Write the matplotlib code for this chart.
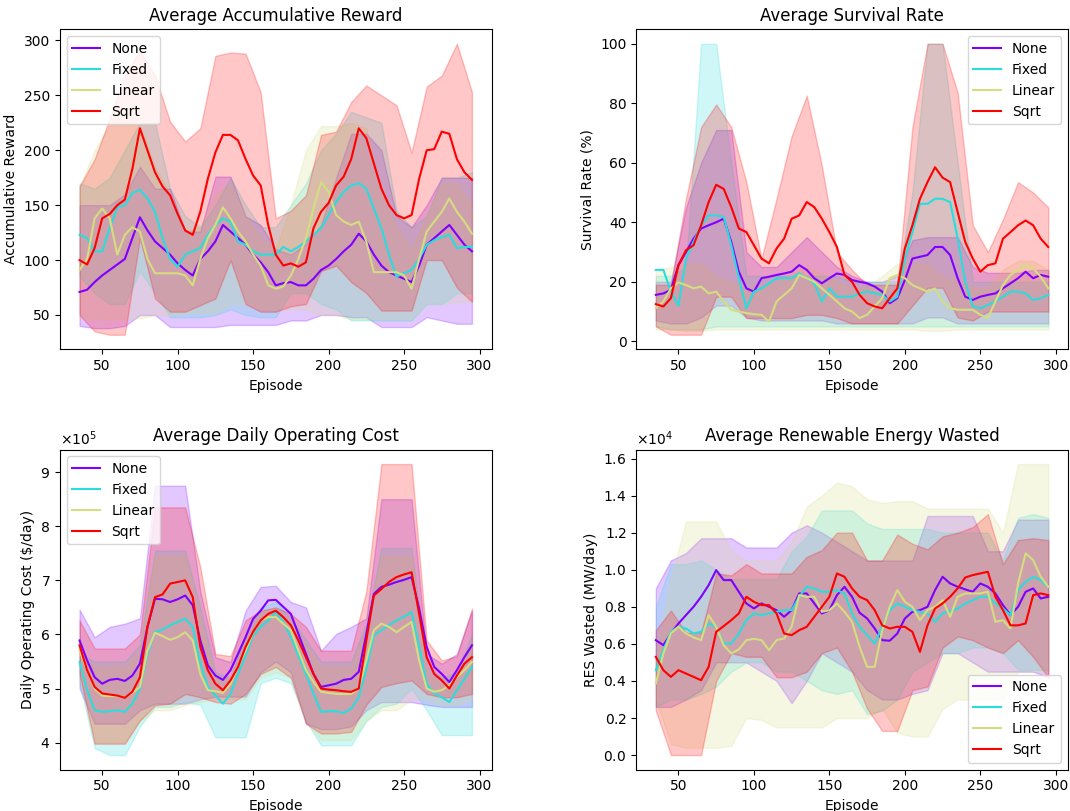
import numpy as np
import matplotlib
matplotlib.use('Agg')
import matplotlib.pyplot as plt

# smoothed mean curves every 5 episodes, min/max envelopes every 10
episodes = list(range(35, 296, 5))
band_episodes = list(range(35, 296, 10))

methods = ['None', 'Fixed', 'Linear', 'Sqrt']

# ---- Average Accumulative Reward
reward_none = [71, 73, 80, 86, 91, 96, 101, 120, 139, 127, 117, 111, 105, 97, 91, 86, 101, 108, 117, 132, 126, 120, 114, 105, 98, 89, 77,
			   79, 80, 77, 77, 83, 91, 95, 101, 108, 114, 124, 117, 105, 95, 89, 86, 83, 80, 95, 114, 120, 126, 132, 123, 114, 108]
reward_fixed = [123, 120, 108, 108, 129, 148, 150, 161, 164, 156, 144, 120, 101, 94, 105, 108, 111, 123, 132, 138, 135, 117, 114, 108, 105, 105, 105,
				112, 108, 112, 117, 123, 129, 141, 153, 162, 168, 170, 165, 147, 129, 105, 85, 88, 91, 101, 114, 118, 121, 123, 111, 112, 112]
reward_linear = [91, 101, 138, 147, 138, 105, 123, 130, 126, 101, 88, 88, 88, 88, 86, 77, 101, 120, 132, 148, 138, 126, 117, 105, 95, 77, 74,
				 76, 86, 101, 120, 147, 171, 162, 141, 135, 132, 135, 117, 89, 89, 89, 89, 86, 74, 101, 126, 135, 144, 156, 144, 135, 124]
reward_sqrt = [100, 96, 111, 138, 142, 150, 155, 183, 220, 200, 180, 167, 159, 142, 127, 123, 144, 174, 198, 214, 214, 209, 192, 177, 168, 132, 105,
			   95, 97, 94, 98, 129, 144, 152, 168, 176, 192, 220, 211, 188, 165, 150, 141, 138, 141, 174, 200, 201, 217, 215, 192, 180, 173]
reward_none_lo = [40, 38, 38, 40, 50, 50, 39, 39, 39, 39, 41, 41, 41, 41, 45, 45, 50, 50, 48, 48, 39, 39, 39, 48, 45, 42, 42]
reward_none_hi = [150, 150, 150, 160, 185, 165, 165, 126, 126, 176, 176, 140, 132, 110, 105, 115, 132, 175, 215, 215, 200, 140, 130, 150, 175, 175, 175]
reward_fixed_lo = [85, 70, 60, 60, 90, 70, 48, 48, 48, 50, 55, 50, 48, 48, 70, 70, 60, 55, 45, 45, 45, 45, 45, 60, 60, 70, 70]
reward_fixed_hi = [170, 165, 175, 200, 225, 225, 165, 140, 130, 150, 175, 150, 130, 130, 150, 170, 200, 215, 235, 230, 225, 145, 130, 140, 175, 175, 180]
reward_linear_lo = [48, 46, 46, 46, 47, 50, 50, 52, 52, 52, 60, 60, 55, 55, 55, 55, 50, 50, 46, 46, 46, 46, 46, 60, 60, 62, 62]
reward_linear_hi = [167, 200, 223, 223, 223, 185, 160, 126, 130, 160, 170, 140, 120, 110, 150, 200, 222, 222, 225, 220, 160, 130, 110, 140, 170, 170, 150]
reward_sqrt_lo = [50, 35, 32, 32, 120, 65, 53, 53, 59, 65, 100, 60, 53, 53, 58, 60, 90, 95, 80, 70, 54, 54, 54, 100, 100, 75, 62]
reward_sqrt_hi = [167, 192, 229, 268, 291, 268, 226, 208, 220, 286, 289, 288, 253, 138, 145, 159, 214, 217, 244, 259, 250, 241, 198, 258, 268, 297, 253]

# ---- Average Survival Rate (%)
surv_none = [15.6, 16.1, 17.3, 25.6, 30, 34.5, 37.9, 39, 40, 41.2, 33.4, 23.4, 17.8, 16.7, 21.2, 21.7, 22.3, 22.8, 23.4, 25.6, 24, 21.2, 19.5, 21.2, 22.8, 22.3, 20.6,
			 20, 19.5, 18.4, 16.7, 12.8, 14.5, 20.6, 27.8, 28.4, 29, 31.7, 31.7, 29, 21.2, 15, 13.9, 15, 15.6, 16.1, 17.8, 19.5, 21.2, 23.4, 21.2, 22.3, 21.7]
surv_fixed = [24, 24, 16.7, 12, 27.8, 33.4, 39, 42.3, 42.3, 41.8, 32.3, 21.2, 11.1, 16.7, 17.8, 19.5, 21.2, 21.2, 21.2, 22.8, 21.2, 19.5, 13.4, 17.8, 15, 15, 15,
			  16.1, 16.7, 16.1, 15.6, 13.4, 15, 27.8, 36.7, 46.2, 46.2, 47.9, 47.9, 46.8, 34.5, 20, 11.7, 11.1, 12.2, 13.4, 15, 16.7, 16.7, 16.1, 13.9, 14.5, 15.6]
surv_linear = [11.1, 13.4, 17.8, 19.8, 18.9, 17.8, 18.4, 16.1, 16.7, 13.4, 10.6, 10, 9.5, 9.1, 8.9, 6.7, 13.4, 15.6, 17.8, 22.3, 21.2, 20, 17.8, 15.6, 13.4, 11.1, 10,
			   7.8, 8.9, 11.7, 14.5, 21.2, 22.3, 21.2, 18.9, 17.8, 16.7, 17.8, 13.4, 11.1, 10.6, 10.6, 10.6, 8.9, 7.8, 13.4, 18.9, 22.3, 24, 25.6, 24.5, 21.7, 17.8]
surv_sqrt = [12.5, 11.7, 14.5, 25.6, 30.6, 32.3, 39, 46.8, 52.6, 51.2, 45.1, 37.9, 36.7, 32.3, 27.8, 26.2, 31.2, 34.5, 41.2, 42.3, 46.8, 45.1, 41.2, 36.7, 31.7, 22.3, 20,
			 15.6, 12.8, 11.7, 11.1, 14.5, 17.8, 31.2, 39, 47.9, 53.5, 58.5, 55, 53.5, 43.4, 33.4, 27.8, 23.4, 25.6, 26.2, 34.5, 36.7, 39, 40.6, 39, 34.5, 31.7]
surv_none_lo = [7, 6, 6, 8, 12, 12, 8, 7, 7, 7, 7, 7, 6, 6, 6, 6, 6, 6, 8, 8, 6, 6, 6, 6, 6, 6, 6]
surv_none_hi = [20, 20, 45, 60, 71, 71, 30, 25, 25, 30, 35, 30, 25, 22, 20, 20, 22, 34, 35, 35, 35, 25, 23, 23, 23, 24, 24]
surv_fixed_lo = [5, 4, 4, 4, 5, 5, 5, 5, 5, 5, 5, 5, 5, 5, 5, 5, 5, 5, 5, 5, 5, 5, 5, 5, 5, 5, 5]
surv_fixed_hi = [22, 22, 25, 100, 100, 60, 22, 22, 22, 22, 22, 22, 22, 20, 20, 20, 20, 50, 100, 100, 60, 20, 20, 20, 20, 20, 20]
surv_linear_lo = [4, 4, 3.5, 3.5, 4, 4, 4, 4, 4, 4, 4, 4, 4, 4, 4, 4, 4, 4, 3.5, 3.5, 4, 4, 4, 4, 4, 4, 4]
surv_linear_hi = [24, 25, 26, 26, 22, 20, 18, 18, 20, 23, 25, 23, 20, 18, 18, 22, 26, 26, 26, 22, 20, 18, 18, 24, 27, 27, 24]
surv_sqrt_lo = [5, 2.2, 2.2, 2.2, 15, 15, 7.8, 7.8, 7.8, 7.8, 8.9, 8.9, 7.8, 6, 6, 6, 6, 12, 18, 18, 8, 7, 10, 10, 10, 10, 10]
surv_sqrt_hi = [19, 19, 48, 72, 79.6, 72, 53.5, 27.8, 48, 69, 82.6, 59, 30, 24, 19, 19, 19, 72, 100, 100, 83.5, 39, 30, 41, 53.5, 50, 45]

# ---- Average Daily Operating Cost (x1e5 $/day)
cost_none = [5.89, 5.52, 5.21, 5.09, 5.16, 5.18, 5.14, 5.24, 5.46, 6.14, 6.66, 6.65, 6.6, 6.65, 6.72, 6.54, 5.89, 5.43, 5.24, 5.16, 5.34, 5.64, 5.95, 6.29, 6.44, 6.63, 6.64,
			 6.51, 6.38, 6.01, 5.64, 5.27, 5.03, 5.06, 5.09, 5.16, 5.18, 5.31, 6.01, 6.75, 6.88, 6.92, 6.97, 7.01, 7.06, 6.48, 5.77, 5.4, 5.27, 5.12, 5.34, 5.58, 5.8]
cost_fixed = [5.49, 4.97, 4.6, 4.57, 4.58, 4.6, 4.57, 4.72, 5.0, 5.64, 6.04, 6.09, 6.17, 6.23, 6.29, 6.14, 5.46, 5.03, 4.87, 4.72, 4.9, 5.27, 5.61, 5.98, 6.14, 6.26, 6.41,
			  6.23, 5.95, 5.61, 5.27, 4.91, 4.57, 4.58, 4.58, 4.55, 4.63, 4.84, 5.37, 5.98, 6.08, 6.17, 6.26, 6.33, 6.41, 5.77, 5.09, 4.91, 4.84, 4.75, 4.97, 5.18, 5.4]
cost_linear = [5.7, 5.34, 5.0, 4.87, 4.86, 4.86, 4.84, 4.92, 5.03, 5.7, 6.03, 5.97, 5.9, 5.95, 6.04, 5.89, 5.27, 4.97, 4.95, 4.92, 5.09, 5.4, 5.7, 6.04, 6.26, 6.32, 6.32,
			   6.2, 6.08, 5.7, 5.34, 5.12, 4.94, 4.92, 4.9, 4.9, 4.9, 5.0, 5.52, 6.08, 6.2, 6.14, 6.04, 6.14, 6.23, 5.52, 5.0, 4.94, 4.97, 5.06, 5.21, 5.34, 5.49]
cost_sqrt = [5.8, 5.34, 5.03, 4.91, 4.89, 4.87, 4.83, 4.94, 5.21, 6.14, 6.69, 6.74, 6.94, 6.97, 7.0, 6.69, 5.77, 5.34, 5.09, 4.97, 5.15, 5.4, 5.77, 6.05, 6.26, 6.38, 6.44,
			 6.32, 6.17, 5.89, 5.58, 5.27, 5.0, 4.98, 4.97, 4.95, 4.94, 5.0, 5.89, 6.72, 6.84, 6.97, 7.06, 7.11, 7.15, 6.38, 5.58, 5.27, 5.15, 5.0, 5.24, 5.46, 5.58]
cost_none_lo = [5.0, 4.35, 4.35, 4.35, 4.6, 4.72, 4.72, 4.72, 4.8, 4.85, 4.85, 4.85, 5.3, 5.5, 5.3, 4.35, 4.25, 4.25, 4.3, 4.6, 4.75, 4.75, 4.75, 4.7, 4.66, 4.66, 4.66]
cost_none_hi = [6.46, 5.95, 6.14, 6.2, 6.3, 8.75, 8.75, 8.75, 6.8, 5.58, 5.49, 6.44, 6.88, 6.9, 6.6, 6.5, 5.7, 6.01, 6.14, 6.3, 8.5, 8.5, 8.5, 5.64, 5.46, 5.64, 6.44]
cost_fixed_lo = [5.1, 3.9, 3.77, 3.77, 4.3, 4.66, 4.66, 4.75, 4.7, 4.1, 4.1, 4.1, 5.1, 5.2, 5.1, 4.4, 3.95, 3.95, 3.95, 4.4, 4.66, 4.72, 5.0, 4.6, 4.14, 4.14, 4.14]
cost_fixed_hi = [5.64, 5.5, 5.5, 5.5, 5.8, 7.55, 7.55, 7.55, 6.5, 5.3, 5.2, 6.0, 6.5, 6.6, 6.3, 5.9, 5.5, 5.5, 5.5, 6.2, 7.6, 7.6, 7.6, 5.4, 5.2, 5.3, 6.0]
cost_linear_lo = [5.2, 4.0, 4.0, 4.0, 4.4, 4.6, 4.6, 4.7, 4.75, 4.8, 4.8, 4.8, 5.2, 5.3, 5.2, 4.4, 4.05, 4.05, 4.05, 4.4, 4.6, 4.6, 4.8, 4.8, 4.7, 4.7, 4.8]
cost_linear_hi = [5.6, 5.4, 5.4, 5.4, 5.7, 7.45, 7.45, 7.45, 6.3, 5.2, 5.2, 5.9, 6.4, 6.5, 6.2, 5.8, 5.4, 5.4, 5.4, 6.1, 7.45, 7.45, 7.45, 5.3, 5.1, 5.2, 5.9]
cost_sqrt_lo = [5.27, 3.98, 3.98, 3.98, 4.41, 4.69, 4.72, 4.9, 4.84, 4.75, 4.72, 4.9, 5.27, 5.4, 5.2, 4.35, 4.17, 4.17, 4.2, 4.7, 5.03, 5.1, 5.15, 4.9, 4.84, 4.84, 4.9]
cost_sqrt_hi = [6.26, 5.74, 5.74, 5.74, 6.0, 8.35, 8.35, 8.35, 7.25, 5.64, 5.6, 6.26, 6.44, 6.5, 6.38, 6.14, 5.7, 5.7, 5.7, 6.8, 9.15, 9.15, 9.15, 5.89, 5.52, 5.6, 6.48]

# ---- Average Renewable Energy Wasted (x1e4 MW/day)
res_none = [0.62, 0.593, 0.656, 0.71, 0.755, 0.8, 0.854, 0.917, 0.998, 0.944, 0.944, 0.881, 0.818, 0.791, 0.818, 0.8, 0.782, 0.746, 0.782, 0.872, 0.872, 0.818, 0.764, 0.782, 0.863, 0.908, 0.854,
			0.768, 0.737, 0.683, 0.62, 0.617, 0.656, 0.737, 0.773, 0.782, 0.8, 0.89, 0.962, 0.926, 0.908, 0.894, 0.881, 0.926, 0.908, 0.872, 0.809, 0.755, 0.8, 0.881, 0.899, 0.845, 0.854]
res_fixed = [0.458, 0.566, 0.665, 0.692, 0.683, 0.656, 0.665, 0.71, 0.692, 0.602, 0.602, 0.656, 0.728, 0.764, 0.755, 0.764, 0.773, 0.782, 0.782, 0.854, 0.908, 0.899, 0.881, 0.881, 0.89, 0.872, 0.764,
			 0.692, 0.647, 0.602, 0.692, 0.782, 0.818, 0.8, 0.782, 0.773, 0.764, 0.719, 0.764, 0.778, 0.791, 0.818, 0.836, 0.854, 0.854, 0.818, 0.791, 0.755, 0.89, 0.935, 0.962, 0.944, 0.908]
res_linear = [0.386, 0.548, 0.656, 0.692, 0.656, 0.635, 0.62, 0.755, 0.692, 0.593, 0.548, 0.57, 0.62, 0.627, 0.62, 0.566, 0.62, 0.629, 0.692, 0.863, 0.854, 0.854, 0.773, 0.782, 0.818, 0.773, 0.719,
			  0.584, 0.476, 0.476, 0.674, 0.8, 0.89, 0.827, 0.8, 0.728, 0.782, 0.8, 0.836, 0.746, 0.854, 0.872, 0.872, 0.872, 0.881, 0.719, 0.728, 0.683, 0.926, 1.088, 1.052, 0.962, 0.908]
res_sqrt = [0.53, 0.458, 0.422, 0.458, 0.44, 0.422, 0.404, 0.476, 0.665, 0.696, 0.728, 0.764, 0.854, 0.827, 0.809, 0.809, 0.764, 0.656, 0.647, 0.674, 0.692, 0.746, 0.8, 0.854, 0.98, 0.962, 0.899,
			0.854, 0.836, 0.782, 0.7, 0.683, 0.692, 0.692, 0.665, 0.557, 0.7, 0.791, 0.818, 0.854, 0.899, 0.958, 0.971, 0.98, 0.989, 0.854, 0.782, 0.7, 0.7, 0.71, 0.863, 0.872, 0.863]
res_none_lo = [0.26, 0.26, 0.3, 0.35, 0.5, 0.5, 0.5, 0.45, 0.4, 0.28, 0.4, 0.55, 0.5, 0.45, 0.35, 0.3, 0.3, 0.33, 0.35, 0.55, 0.55, 0.5, 0.45, 0.45, 0.45, 0.45, 0.42]
res_none_hi = [0.9, 1.05, 1.09, 1.17, 1.17, 1.17, 1.12, 1.12, 1.12, 1.2, 1.24, 1.2, 1.15, 1.1, 1.05, 1.05, 1.05, 1.05, 1.29, 1.29, 1.29, 1.29, 1.1, 1.1, 1.27, 1.27, 1.27]
res_fixed_lo = [0.26, 0.3, 0.3, 0.33, 0.37, 0.45, 0.5, 0.5, 0.45, 0.45, 0.4, 0.35, 0.33, 0.35, 0.22, 0.24, 0.3, 0.45, 0.5, 0.55, 0.55, 0.58, 0.58, 0.55, 0.46, 0.46, 0.46]
res_fixed_hi = [0.8, 1.03, 1.03, 1.05, 1.0, 0.95, 0.95, 0.95, 0.95, 1.1, 1.18, 1.32, 1.32, 1.32, 1.25, 1.22, 1.22, 1.22, 1.22, 1.2, 1.2, 1.2, 1.2, 1.05, 1.28, 1.3, 1.28]
res_linear_lo = [0.3, 0.06, 0.04, 0.04, 0.04, 0.05, 0.2, 0.19, 0.15, 0.15, 0.15, 0.15, 0.2, 0.2, 0.2, 0.25, 0.12, 0.1, 0.1, 0.25, 0.3, 0.3, 0.3, 0.3, 0.45, 0.45, 0.45]
res_linear_hi = [0.5, 0.95, 1.26, 1.26, 1.26, 1.1, 1.05, 1.05, 1.05, 1.15, 1.34, 1.4, 1.47, 1.45, 1.38, 1.36, 1.37, 1.37, 1.33, 1.33, 1.33, 1.33, 1.33, 1.2, 1.57, 1.57, 1.57]
res_sqrt_lo = [0.24, 0.0, 0.0, 0.0, 0.4, 0.55, 0.53, 0.53, 0.42, 0.42, 0.45, 0.55, 0.58, 0.45, 0.25, 0.13, 0.13, 0.35, 0.37, 0.58, 0.64, 0.62, 0.58, 0.55, 0.62, 0.53, 0.42]
res_sqrt_hi = [0.674, 0.78, 0.66, 0.66, 0.98, 0.97, 1.03, 0.98, 0.98, 0.98, 1.07, 1.106, 1.2, 1.2, 1.05, 1.05, 1.19, 1.14, 1.11, 1.18, 1.2, 1.23, 1.3, 1.03, 1.16, 1.17, 1.16]

colors = plt.cm.rainbow(np.linspace(0, 1, len(methods)))


def draw(ax, series, scale, title, ylabel, legend_loc):
	x = np.array(episodes)
	xb = np.array(band_episodes)
	for i, (mean, lo, hi) in enumerate(series):
		c = colors[i]
		ax.fill_between(xb, np.array(lo) * scale, np.array(hi) * scale, color=c, alpha=0.22, linewidth=1)
		ax.plot(x, np.array(mean) * scale, color=c, linewidth=1.5, label=methods[i])
	ax.set_title(title)
	ax.set_xlabel('Episode')
	ax.set_ylabel(ylabel)
	ax.set_xticks([50, 100, 150, 200, 250, 300])
	ax.legend(loc=legend_loc)
	if scale != 1:
		ax.ticklabel_format(axis='y', style='sci', scilimits=(0, 0), useMathText=True)


fig, axs = plt.subplots(2, 2, figsize=(10.7, 8.11), dpi=100)
plt.subplots_adjust(left=0.056, right=0.998, bottom=0.051, top=0.964, wspace=0.335, hspace=0.313)

draw(axs[0, 0], [(reward_none, reward_none_lo, reward_none_hi),
				 (reward_fixed, reward_fixed_lo, reward_fixed_hi),
				 (reward_linear, reward_linear_lo, reward_linear_hi),
				 (reward_sqrt, reward_sqrt_lo, reward_sqrt_hi)],
	 1, 'Average Accumulative Reward', 'Accumulative Reward', 'upper left')

draw(axs[0, 1], [(surv_none, surv_none_lo, surv_none_hi),
				 (surv_fixed, surv_fixed_lo, surv_fixed_hi),
				 (surv_linear, surv_linear_lo, surv_linear_hi),
				 (surv_sqrt, surv_sqrt_lo, surv_sqrt_hi)],
	 1, 'Average Survival Rate', 'Survival Rate (%)', 'upper right')

draw(axs[1, 0], [(cost_none, cost_none_lo, cost_none_hi),
				 (cost_fixed, cost_fixed_lo, cost_fixed_hi),
				 (cost_linear, cost_linear_lo, cost_linear_hi),
				 (cost_sqrt, cost_sqrt_lo, cost_sqrt_hi)],
	 1e5, 'Average Daily Operating Cost', r'Daily Operating Cost (\$/day)', 'upper left')

draw(axs[1, 1], [(res_none, res_none_lo, res_none_hi),
				 (res_fixed, res_fixed_lo, res_fixed_hi),
				 (res_linear, res_linear_lo, res_linear_hi),
				 (res_sqrt, res_sqrt_lo, res_sqrt_hi)],
	 1e4, 'Average Renewable Energy Wasted', 'RES Wasted (MW/day)', 'lower right')

fig.savefig('out.png', dpi=100)
